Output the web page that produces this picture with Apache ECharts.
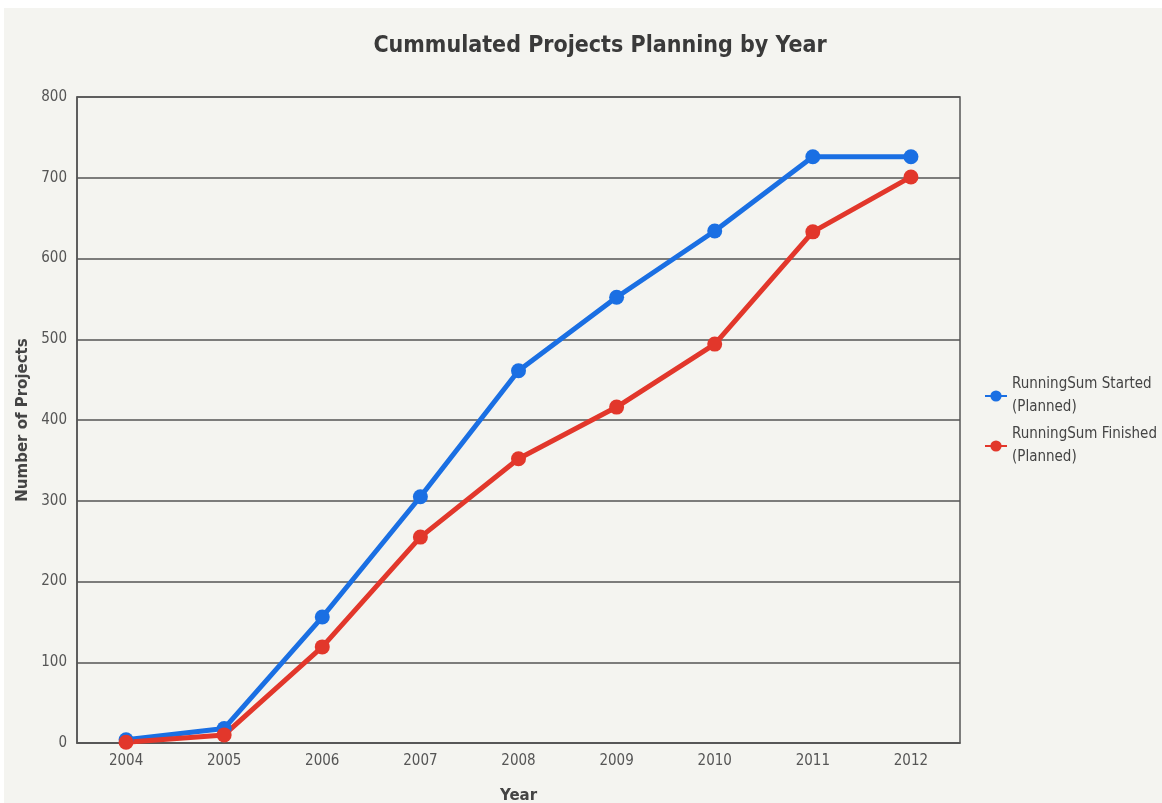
<html>
<head>
<meta charset="utf-8">
<style>
  *{box-sizing:border-box;}
  body,html{margin:0;padding:0;width:100%;height:100%;background:#fff;}
  #chart{position:absolute;left:4px;top:8px;width:1158px;height:795px;background:#f4f4f0;}
</style>
<script src="https://cdn.jsdelivr.net/npm/echarts@6/dist/echarts.min.js"></script>
</head>
<body>
<div id="chart"></div>
<script>
  var years = ["2004","2005","2006","2007","2008","2009","2010","2011","2012"];
  var startedPlanned = [4, 18, 156, 305, 461, 552, 634, 726, 726];
  var finishedPlanned = [1, 10, 119, 255, 352, 416, 494, 633, 701];
  var yTicks = [0, 100, 200, 300, 400, 500, 600, 700, 800];

  var chart = echarts.init(document.getElementById("chart"));

  function serie(name, data, color){
    return {
      name: name,
      type: "line",
      data: data,
      symbol: "circle",
      symbolSize: 15,
      lineStyle: {width: 5, color: color},
      itemStyle: {color: color},
      z: 3
    };
  }

  var option = {
    backgroundColor: "#f4f4f0",
    animation: false,
    title: {
      text: "Cummulated Projects Planning by Year",
      left: 591,
      top: 22,
      textAlign: "center",
      textStyle: {fontFamily: "DejaVu Sans Condensed", fontSize: 23, fontWeight: "bold", color: "#3a3a3a"}
    },
    legend: {
      orient: "vertical",
      left: 975,
      top: 360,
      itemGap: 4,
      itemWidth: 22,
      itemHeight: 14,
      textStyle: {fontFamily: "DejaVu Sans Condensed", fontSize: 15, color: "#444", lineHeight: 23},
      data: ["RunningSum Started\n(Planned)", "RunningSum Finished\n(Planned)"]
    },
    grid: {
      left: 73, top: 89, width: 883, height: 646,
      outerBoundsMode: "none",
      show: true, borderColor: "#555", borderWidth: 1.5, backgroundColor: "transparent"
    },
    xAxis: {
      type: "category",
      data: years,
      boundaryGap: true,
      name: "Year",
      nameLocation: "middle",
      nameGap: 46,
      nameTextStyle: {fontFamily: "DejaVu Sans", fontSize: 15, fontWeight: "bold", color: "#444"},
      axisLine: {lineStyle: {color: "#555", width: 1.5}},
      axisTick: {show: false},
      axisLabel: {fontFamily: "DejaVu Sans Condensed", fontSize: 15, color: "#555", margin: 11}
    },
    yAxis: {
      type: "value",
      min: yTicks[0],
      max: yTicks[yTicks.length - 1],
      interval: 100,
      name: "Number of Projects",
      nameLocation: "middle",
      nameGap: 44,
      nameTextStyle: {fontFamily: "DejaVu Sans", fontSize: 15, fontWeight: "bold", color: "#444"},
      axisLine: {show: true, lineStyle: {color: "#555", width: 1.5}},
      axisTick: {show: false},
      splitLine: {lineStyle: {color: "#555", width: 1.5}},
      axisLabel: {fontFamily: "DejaVu Sans Condensed", fontSize: 15, color: "#555", margin: 10}
    },
    series: [
      serie("RunningSum Started\n(Planned)", startedPlanned, "#1a6fe3"),
      serie("RunningSum Finished\n(Planned)", finishedPlanned, "#e2372b")
    ]
  };

  chart.setOption(option);
</script>
</body>
</html>
